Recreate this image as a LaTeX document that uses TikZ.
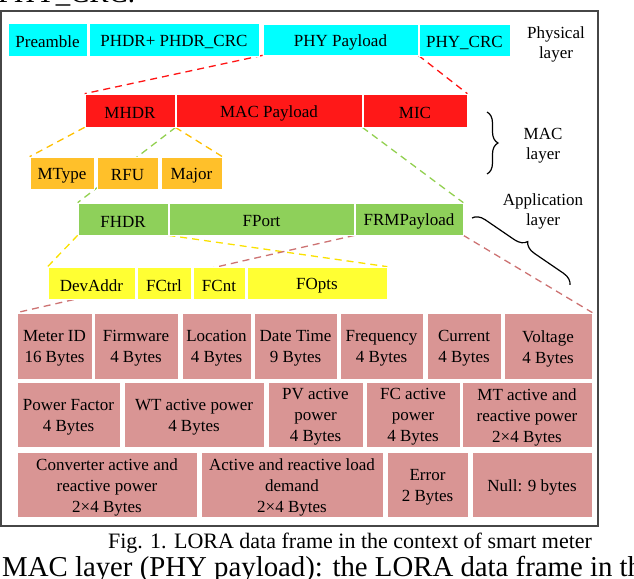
\documentclass[tikz,border=0pt]{standalone}
\usepackage{fontspec}
\setmainfont{Liberation Serif}
\usetikzlibrary{decorations.pathreplacing}
\pgfdeclarelayer{bg}
\pgfsetlayers{bg,main}
\definecolor{cyanF}{RGB}{0,255,255}
\definecolor{redF}{RGB}{255,24,24}
\definecolor{orangeF}{RGB}{255,192,42}
\definecolor{greenF}{RGB}{142,208,90}
\definecolor{yellowF}{RGB}{255,255,51}
\definecolor{roseF}{RGB}{217,149,148}
\definecolor{roseL}{RGB}{205,115,115}
\definecolor{yellowL}{RGB}{250,225,0}
\definecolor{orangeL}{RGB}{255,192,0}
\definecolor{greenL}{RGB}{146,208,80}
\definecolor{redL}{RGB}{255,20,20}
\definecolor{frameC}{RGB}{70,70,70}
\newcommand\cellfont{\fontsize{17}{21}\selectfont}
\newcommand\cell[7]{%
  \node[cellbox,fill=#6,minimum width={(#4-#2)*1pt},minimum height={(#5-#3)*1pt}] (#1) at ({(#2+#4)/2},{(#3+#5)/2}) {};
  \node[celltext] (#1-t) at ([yshift=-2.5pt]#1.center) {#7};}
\tikzset{
  cellbox/.style={draw=white, line width=0.7pt, inner sep=0pt},
  celltext/.style={inner sep=0pt, align=center, font=\cellfont, text=black},
  conn/.style={dash pattern=on 7pt off 5pt, line width=1.3pt},
  layerlabel/.style={align=center, font=\fontsize{17}{20}\selectfont, inner sep=0pt},
  bracestyle/.style={draw=black, line width=1.2pt, decorate},
  pagetext/.style={font=\fontsize{28.8}{30}\selectfont, inner sep=0pt, anchor=base west}
}
\begin{document}
\begin{tikzpicture}[x=1pt,y=-1pt]
\useasboundingbox (0,0) rectangle (634,578);
% surrounding page text
\node[pagetext] (toptext) at (-2,3) {PHY\_CRC.};
\node[pagetext] (bottext) at (2,576) {MAC layer (PHY payload): the LORA data frame in the};
\node[font=\fontsize{22}{24}\selectfont, inner sep=0pt, anchor=base] (caption) at (350,548) {Fig. 1. LORA data frame in the context of smart meter};
% frame
\draw[frameC, line width=1.4pt] (1,11) rectangle (598,526);
% physical layer
\cell{pre}{8}{23}{87}{56}{cyanF}{Preamble}
\cell{phdr}{89}{23}{259}{56}{cyanF}{PHDR+ PHDR\_CRC}
\cell{phypay}{263}{24}{418}{55}{cyanF}{PHY Payload}
\cell{phycrc}{419}{24}{510}{56}{cyanF}{PHY\_CRC}
\node[layerlabel] (phylabel) at (556,44) {Physical\\layer};
% MAC layer
\cell{mhdr}{85}{94}{175}{127}{redF}{MHDR}
\cell{macpay}{176}{94}{362}{127}{redF}{MAC Payload}
\cell{mic}{363}{94}{467}{127}{redF}{MIC}
\coordinate (macb1) at (487,112);
\coordinate (macb2) at (487,174);
\draw[bracestyle, decoration={brace, amplitude=11pt}] (macb1) -- (macb2);
\node[layerlabel] (maclabel) at (543,145.5) {MAC\\layer};
% MHDR fields
\cell{mtype}{30}{157}{94}{189}{orangeF}{MType}
\cell{rfu}{97}{157}{158}{189}{orangeF}{RFU}
\cell{major}{161}{157}{222}{189}{orangeF}{Major}
% application layer
\cell{fhdr}{78}{203}{168}{235}{greenF}{FHDR}
\cell{fport}{169}{203}{354}{235}{greenF}{FPort}
\cell{frm}{355}{203}{463}{235}{greenF}{FRMPayload}
\node[layerlabel] (applabel) at (543,211) {Application\\layer};
\coordinate (appb1) at (472,218);
\coordinate (appb2) at (570,285);
\draw[bracestyle, decoration={brace, amplitude=12pt}] (appb1) -- (appb2);
% FHDR fields
\cell{devaddr}{48}{267}{135}{299}{yellowF}{DevAddr}
\cell{fctrl}{137}{267}{191}{299}{yellowF}{FCtrl}
\cell{fcnt}{193}{267}{245}{299}{yellowF}{FCnt}
\cell{fopts}{247}{267}{387}{299}{yellowF}{FOpts}
% smart meter payload row 1
\cell{meterid}{17}{313}{92}{379}{roseF}{Meter ID\\16 Bytes}
\cell{firmware}{94}{313}{178}{379}{roseF}{Firmware\\4 Bytes}
\cell{location}{182}{313}{251}{379}{roseF}{Location\\4 Bytes}
\cell{datetime}{254}{313}{337}{379}{roseF}{Date Time\\9 Bytes}
\cell{freq}{340}{313}{423}{379}{roseF}{Frequency\\4 Bytes}
\cell{current}{427}{313}{501}{379}{roseF}{Current\\4 Bytes}
\cell{voltage}{504}{313}{592}{379}{roseF}{Voltage\\4 Bytes}
% row 2
\cell{pf}{17}{382}{120}{447}{roseF}{Power Factor\\4 Bytes}
\cell{wt}{124}{382}{264}{447}{roseF}{WT active power\\4 Bytes}
\cell{pv}{268}{382}{363}{447}{roseF}{PV active\\power\\4 Bytes}
\cell{fc}{366}{382}{460}{447}{roseF}{FC active\\power\\4 Bytes}
\cell{mt}{462}{382}{592}{447}{roseF}{MT active and\\reactive power\\2×4 Bytes}
% row 3
\cell{conv}{17}{452}{197}{517}{roseF}{Converter active and\\reactive power\\2×4 Bytes}
\cell{load}{201}{452}{383}{517}{roseF}{Active and reactive load\\demand\\2×4 Bytes}
\cell{err}{387}{452}{468}{517}{roseF}{Error\\2 Bytes}
\cell{null}{472}{452}{592}{517}{roseF}{Null: 9 bytes}
% connectors
\begin{pgfonlayer}{bg}
\draw[conn, redL] (phypay.south west) -- (mhdr.north west);
\draw[conn, redL] (phypay.south east) -- (mic.north east);
\draw[conn, orangeL] (mhdr.south west) -- (mtype.north west);
\draw[conn, orangeL] (mhdr.south east) -- (major.north east);
\draw[conn, greenL] (macpay.south west) -- (fhdr.north west);
\draw[conn, greenL] (macpay.south east) -- (frm.north east);
\draw[conn, yellowL] (fhdr.south west) -- (devaddr.north west);
\draw[conn, yellowL] (fhdr.south east) -- (fopts.north east);
\draw[conn, roseL] (frm.south west) -- (meterid.north west);
\draw[conn, roseL] (frm.south east) -- (voltage.north east);
\end{pgfonlayer}
\end{tikzpicture}
\end{document}
